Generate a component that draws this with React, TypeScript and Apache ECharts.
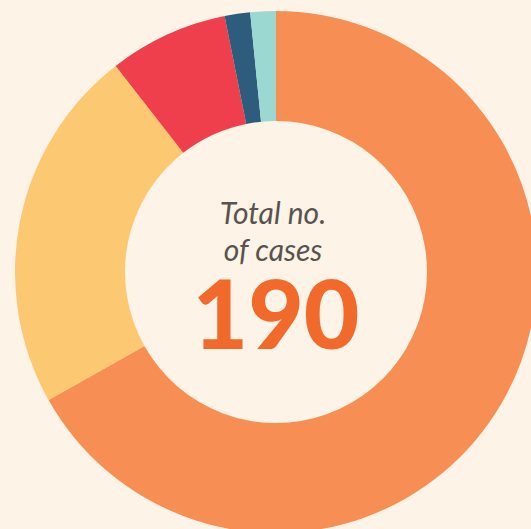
import React, { useEffect, useRef } from "react";
import * as echarts from "echarts";

const categories = ["Category A", "Category B", "Category C", "Category D", "Category E"];
const values = [127, 43, 14, 3, 3];
const colors = ["#f78f55", "#fcc872", "#ef3f4c", "#2e5c7c", "#9bd8d2"];
const totalLabel = ["Total no.", "of cases"];
const totalValue = "190";

export default function App() {
  const ref = useRef<HTMLDivElement>(null);
  useEffect(() => {
    const chart = echarts.init(ref.current!, undefined, { renderer: "svg" });
    chart.setOption({
      animation: false,
      backgroundColor: "#fdf3e6",
      series: [
        {
          type: "pie",
          center: [276, 272],
          radius: [151, 261],
          startAngle: 90,
          clockwise: true,
          label: { show: false },
          labelLine: { show: false },
          silent: true,
          itemStyle: { borderWidth: 0 },
          data: categories.map((c, i) => ({ name: c, value: values[i], itemStyle: { color: colors[i] } })),
        },
      ],
      graphic: [
        {
          type: "text",
          x: 273,
          y: 193,
          style: {
            text: totalLabel.join("\n"),
            fontFamily: "Lato",
            fontStyle: "italic",
            fontSize: 30,
            lineHeight: 37,
            fill: "#58534e",
            textAlign: "center",
            textVerticalAlign: "top",
          },
        },
        {
          type: "text",
          x: 276,
          y: 311,
          style: {
            text: totalValue,
            fontFamily: "Lato",
            fontWeight: 900,
            fontSize: 96,
            lineHeight: 72,
            fill: "#f26a2b",
            textAlign: "center",
            textVerticalAlign: "middle",
          },
        },
      ],
    });
    return () => chart.dispose();
  }, []);
  return <div ref={ref} style={{ position: "fixed", left: 0, top: 0, width: 531, height: 529 }} />;
}
